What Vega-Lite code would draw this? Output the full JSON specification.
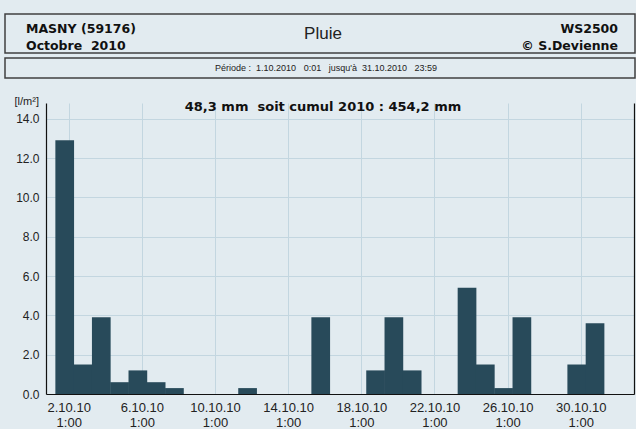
{
  "$schema": "https://vega.github.io/schema/vega-lite/v6.json",
  "background": "#e2ebf0",
  "padding": {"left": 4, "top": 13, "right": 0, "bottom": 0},
  "config": {"font": "Liberation Sans", "view": {"stroke": null}},
  "datasets": {
    "rain": [
      {"date": "2010-10-02T01:00", "rain": 12.9},
      {"date": "2010-10-03T01:00", "rain": 1.5},
      {"date": "2010-10-04T01:00", "rain": 3.9},
      {"date": "2010-10-05T01:00", "rain": 0.6},
      {"date": "2010-10-06T01:00", "rain": 1.2},
      {"date": "2010-10-07T01:00", "rain": 0.6},
      {"date": "2010-10-08T01:00", "rain": 0.3},
      {"date": "2010-10-09T01:00", "rain": 0},
      {"date": "2010-10-10T01:00", "rain": 0},
      {"date": "2010-10-11T01:00", "rain": 0},
      {"date": "2010-10-12T01:00", "rain": 0.3},
      {"date": "2010-10-13T01:00", "rain": 0},
      {"date": "2010-10-14T01:00", "rain": 0},
      {"date": "2010-10-15T01:00", "rain": 0},
      {"date": "2010-10-16T01:00", "rain": 3.9},
      {"date": "2010-10-17T01:00", "rain": 0},
      {"date": "2010-10-18T01:00", "rain": 0},
      {"date": "2010-10-19T01:00", "rain": 1.2},
      {"date": "2010-10-20T01:00", "rain": 3.9},
      {"date": "2010-10-21T01:00", "rain": 1.2},
      {"date": "2010-10-22T01:00", "rain": 0},
      {"date": "2010-10-23T01:00", "rain": 0},
      {"date": "2010-10-24T01:00", "rain": 5.4},
      {"date": "2010-10-25T01:00", "rain": 1.5},
      {"date": "2010-10-26T01:00", "rain": 0.3},
      {"date": "2010-10-27T01:00", "rain": 3.9},
      {"date": "2010-10-28T01:00", "rain": 0},
      {"date": "2010-10-29T01:00", "rain": 0},
      {"date": "2010-10-30T01:00", "rain": 1.5},
      {"date": "2010-10-31T01:00", "rain": 3.6}
    ],
    "header": [
      {"text": "MASNY (59176)", "side": "left", "line": 1},
      {"text": "Octobre\u00a0 2010", "side": "left", "line": 2},
      {"text": "Pluie", "side": "center", "line": 1},
      {"text": "WS2500", "side": "right", "line": 1},
      {"text": "© S.Devienne", "side": "right", "line": 2}
    ],
    "periode": [
      {"text": "Période :\u00a0 1.10.2010\u00a0\u00a0 0:01\u00a0\u00a0 jusqu'à\u00a0 31.10.2010\u00a0\u00a0 23:59"}
    ],
    "blank": [{"text": ""}]
  },
  "columns": 1,
  "spacing": 16,
  "concat": [
    {
      "columns": 1,
      "spacing": 3,
      "concat": [
        {
          "width": 630,
          "height": 39,
          "view": {"stroke": "#404040", "strokeWidth": 1.5},
          "data": {"name": "header"},
          "encoding": {
            "x": {"field": "side", "type": "nominal", "scale": {"type": "point", "domain": ["left", "center", "right"], "padding": 0}, "axis": null},
            "text": {"field": "text", "type": "nominal"}
          },
          "layer": [
            {
              "transform": [{"filter": "datum.side === 'left'"}],
              "mark": {"type": "text", "align": "left", "baseline": "middle", "dx": 21, "dy": 4, "font": "DejaVu Sans", "fontWeight": "bold", "fontSize": 12.5, "color": "#111"},
              "encoding": {"y": {"field": "line", "type": "ordinal", "scale": {"type": "point", "padding": 0.7}, "axis": null}}
            },
            {
              "transform": [{"filter": "datum.side === 'right'"}],
              "mark": {"type": "text", "align": "right", "baseline": "middle", "dx": -17, "dy": 4, "font": "DejaVu Sans", "fontWeight": "bold", "fontSize": 12.5, "color": "#111"},
              "encoding": {"y": {"field": "line", "type": "ordinal", "scale": {"type": "point", "padding": 0.7}, "axis": null}}
            },
            {
              "transform": [{"filter": "datum.side === 'center'"}],
              "mark": {"type": "text", "align": "center", "baseline": "middle", "dx": 3, "fontSize": 17, "color": "#222"}
            }
          ]
        },
        {
          "width": 630,
          "height": 20,
          "view": {"stroke": "#404040", "strokeWidth": 1.5},
          "data": {"name": "periode"},
          "mark": {"type": "text", "align": "center", "baseline": "middle", "dx": 6, "fontSize": 9, "color": "#222"},
          "encoding": {"text": {"field": "text", "type": "nominal"}}
        }
      ]
    },
    {
      "spacing": -20,
      "hconcat": [
        {
          "width": 0,
          "height": 1,
          "data": {"name": "blank"},
          "mark": {"type": "text"},
          "encoding": {"text": {"field": "text", "type": "nominal"}}
        },
        {
          "width": 588,
          "height": 291,
          "data": {"name": "rain"},
          "title": {"text": "48,3 mm\u00a0 soit cumul 2010 : 454,2 mm", "font": "DejaVu Sans", "fontSize": 13, "fontWeight": "bold", "color": "#111", "anchor": "middle", "frame": "group", "dx": -17, "dy": 19, "offset": -10, "baseline": "alphabetic"},
          "layer": [
            {
              "mark": {"type": "bar", "width": 18.7, "xOffset": -4, "color": "#284a5a"},
              "encoding": {
                "x": {
                  "field": "date", "type": "temporal",
                  "scale": {"domain": [{"year": 2010, "month": 10, "date": 1, "hours": 1, "minutes": 45}, {"year": 2010, "month": 11, "date": 1, "hours": 16, "minutes": 20}]},
                  "axis": {
                    "values": [
                      {"year": 2010, "month": 10, "date": 2, "hours": 1},
                      {"year": 2010, "month": 10, "date": 6, "hours": 1},
                      {"year": 2010, "month": 10, "date": 10, "hours": 1},
                      {"year": 2010, "month": 10, "date": 14, "hours": 1},
                      {"year": 2010, "month": 10, "date": 18, "hours": 1},
                      {"year": 2010, "month": 10, "date": 22, "hours": 1},
                      {"year": 2010, "month": 10, "date": 26, "hours": 1},
                      {"year": 2010, "month": 10, "date": 30, "hours": 1}
                    ],
                    "labelExpr": "[timeFormat(datum.value, '%-d.%m.%y'), timeFormat(datum.value, '%-H:%M')]",
                    "labelFontSize": 13, "labelColor": "#222", "labelAngle": 0, "labelPadding": 7, "labelLineHeight": 15,
                    "ticks": false, "domainColor": "#111", "domainWidth": 1.2,
                    "gridColor": "#c3d6e0", "title": null
                  }
                },
                "y": {
                  "field": "rain", "type": "quantitative",
                  "scale": {"domain": [0, 14.8], "nice": false},
                  "axis": {
                    "values": [0, 2, 4, 6, 8, 10, 12, 14], "format": ".1f",
                    "labelFontSize": 12, "labelColor": "#222", "labelPadding": 7, "ticks": false,
                    "domainColor": "#111", "domainWidth": 1.2, "gridColor": "#c3d6e0",
                    "title": "[l/m²]", "titleAngle": 0, "titleX": -32, "titleY": 3, "titleAlign": "left", "titleBaseline": "bottom",
                    "titleFontWeight": "normal", "titleFontSize": 11, "titleColor": "#222", "minExtent": 41
                  }
                }
              }
            },
            {
              "mark": {"type": "bar", "width": 18.7, "opacity": 0},
              "encoding": {
                "x": {"field": "date", "type": "temporal"},
                "y": {
                  "field": "rain", "type": "quantitative",
                  "scale": {"domain": [0, 14.8], "nice": false},
                  "axis": {"orient": "right", "labels": false, "ticks": false, "grid": false, "title": null, "domainColor": "#111", "domainWidth": 1.2}
                }
              }
            }
          ],
          "resolve": {"scale": {"y": "independent"}}
        }
      ]
    }
  ]
}
